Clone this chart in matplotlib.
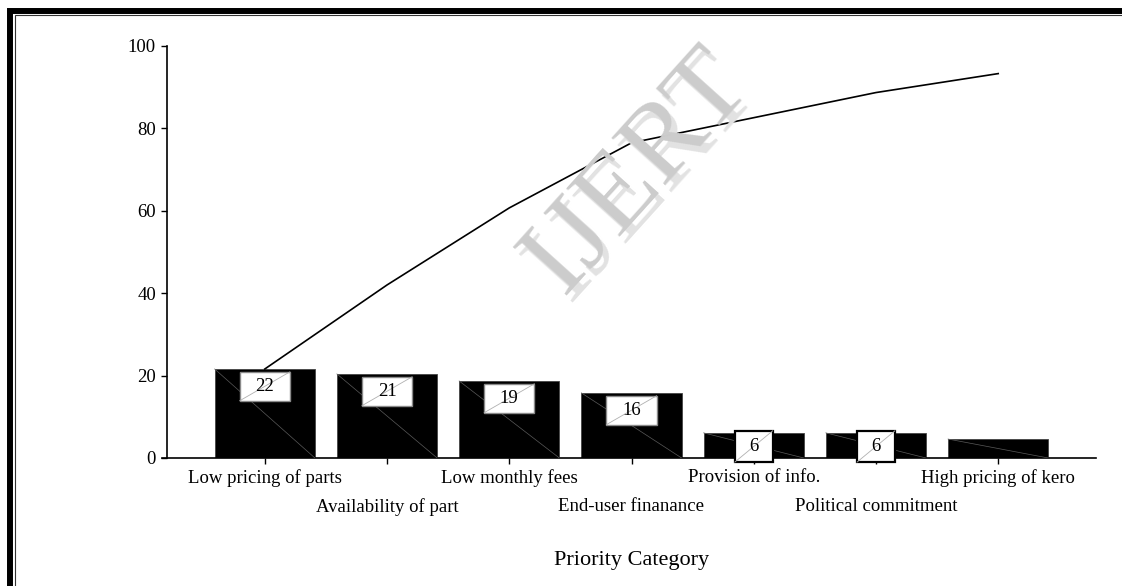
import numpy as np
import matplotlib; matplotlib.use("Agg")
import matplotlib.pyplot as plt
from matplotlib.patches import Rectangle

# priority categories and their share (%) of responses
categories = ["Low pricing of parts", "Availability of part", "Low monthly fees",
              "End-user finanance", "Provision of info.", "Political commitment",
              "High pricing of kero"]
share = [21.6, 20.4, 18.7, 15.8, 6.1, 6.1, 4.6]
share_labels = ["22", "21", "19", "16", "6", "6", ""]
cumulative = np.cumsum(share)

W, H = 1122, 586
plt.rcParams["font.family"] = ["Liberation Serif", "DejaVu Serif"]

fig = plt.figure(figsize=(W / 100, H / 100), dpi=100)
ax = fig.add_axes([167 / W, 1 - 458 / H, (1096 - 167) / W, (458 - 46) / H])

# watermark behind everything
for dx, dy, c in [(6, 7, "#e2e2e2"), (0, 0, "#cccccc")]:
    fig.text((638 + dx) / W, 1 - (172 + dy) / H, "IJERT", rotation=48,
             fontsize=80, color=c, ha="center", va="center", zorder=0)

x = np.arange(len(categories))
bw = 0.82
ax.bar(x, share, width=bw, color="black", edgecolor="#444444", lw=0.6, zorder=2)
for xi, v in zip(x, share):           # faint diagonal across each bar
    ax.plot([xi - bw / 2, xi + bw / 2], [v, 0], color="#5a5a5a", lw=0.5, zorder=3)

ax.plot(x, cumulative, color="black", lw=1.2, zorder=4)

# value boxes sitting just under each bar top
for xi, v, lab in zip(x, share, share_labels):
    if not lab:
        continue
    small = v < 10
    bw_box = 0.1 * len(lab) + 0.21
    bh_box = 7.6 if small else 7.0
    yc = v - 3.3 if small else v - 4.2
    ax.add_patch(Rectangle((xi - bw_box / 2, yc - bh_box / 2), bw_box, bh_box,
                           fc="white", ec="black" if small else "#8a8a8a",
                           lw=1.6 if small else 1.0, zorder=5, clip_on=False))
    ax.plot([xi - bw_box / 2, xi + bw_box / 2], [yc - bh_box / 2, yc + bh_box / 2],
            color="#b0b0b0", lw=0.6, zorder=5.5, clip_on=False)
    ax.text(xi, yc, lab, ha="center", va="center", fontsize=13.5, zorder=6)

ax.set_xlim(-0.8, 6.8)
ax.set_ylim(0, 100)
ax.set_yticks([0, 20, 40, 60, 80, 100])
ax.set_xticks(x)
ax.set_xticklabels(categories)
ax.tick_params(axis="both", labelsize=13.5, length=4, width=1, direction="out", pad=4)
for t in ax.xaxis.get_major_ticks()[1::2]:
    t.set_pad(25)
for s in ["top", "right"]:
    ax.spines[s].set_visible(False)
for s in ["left", "bottom"]:
    ax.spines[s].set_linewidth(1.2)
ax.spines["bottom"].set_bounds(-0.84, 6.8)

ax.set_xlabel("Priority Category", fontsize=16)
ax.xaxis.set_label_coords(0.5, -0.226)

# page border: thick outer rule with a thin inner rule
fig.add_artist(Rectangle((9.5 / W, -0.1), 1.2, 1.1 - 11 / H, transform=fig.transFigure,
                         fill=False, ec="black", lw=4.3))
fig.add_artist(Rectangle((14.5 / W, -0.1), 1.2, 1.1 - 15.5 / H, transform=fig.transFigure,
                         fill=False, ec="#333333", lw=0.8))

fig.savefig("out.png", dpi=100)
